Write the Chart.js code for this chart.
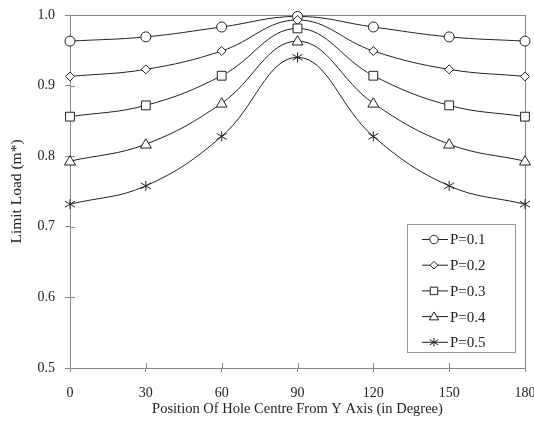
<!DOCTYPE html>
<html><head><meta charset="utf-8">
<script src="https://cdn.jsdelivr.net/npm/chart.js@4/dist/chart.umd.min.js"></script>
<style>html,body{margin:0;padding:0;background:#fff;overflow:hidden;width:534px;height:429px}#wrap{width:550px;height:429px;position:relative}</style>
</head><body><div id="wrap"><canvas id="c"></canvas></div>
<script>
const positions = [0, 30, 60, 90, 120, 150, 180];
const seriesNames = ['P=0.1', 'P=0.2', 'P=0.3', 'P=0.4', 'P=0.5'];
const p01 = [0.963, 0.969, 0.983, 0.998, 0.983, 0.969, 0.963];
const p02 = [0.913, 0.923, 0.949, 0.993, 0.949, 0.923, 0.913];
const p03 = [0.856, 0.872, 0.914, 0.981, 0.914, 0.872, 0.856];
const p04 = [0.793, 0.817, 0.875, 0.963, 0.875, 0.817, 0.793];
const p05 = [0.732, 0.758, 0.828, 0.940, 0.828, 0.758, 0.732];
const yTicks = [0.5, 0.6, 0.7, 0.8, 0.9, 1.0];
const xTicks = [0, 30, 60, 90, 120, 150, 180];

const allSeries = [p01, p02, p03, p04, p05];
const markers = ['circle', 'rectRot', 'rect', 'triangle', 'star'];
const markerR = [5, 4.5, 5.5, 5.5, 5];
const ink = '#222';
const FONT = '"Liberation Serif", "Times New Roman", serif';

function drawMarker(ctx, type, x, y, r) {
  ctx.save();
  ctx.beginPath();
  if (type === 'circle') { ctx.arc(x, y, r, 0, Math.PI * 2); }
  else if (type === 'rectRot') { ctx.moveTo(x, y - r); ctx.lineTo(x + r, y); ctx.lineTo(x, y + r); ctx.lineTo(x - r, y); ctx.closePath(); }
  else if (type === 'rect') { ctx.rect(x - r * 0.8, y - r * 0.8, r * 1.6, r * 1.6); }
  else if (type === 'triangle') { ctx.moveTo(x, y - r); ctx.lineTo(x + r, y + r * 0.7); ctx.lineTo(x - r, y + r * 0.7); ctx.closePath(); }
  if (type !== 'star') { ctx.fillStyle = '#fff'; ctx.fill(); ctx.stroke(); }
  else {
    ctx.moveTo(x - r, y - r * 0.6); ctx.lineTo(x + r, y + r * 0.6);
    ctx.moveTo(x - r, y + r * 0.6); ctx.lineTo(x + r, y - r * 0.6);
    ctx.moveTo(x, y - r); ctx.lineTo(x, y + r);
    ctx.stroke();
  }
  ctx.restore();
}

const framePlugin = {
  id: 'frame',
  beforeDatasetsDraw(chart) {
    const { ctx, chartArea: a, scales } = chart;
    ctx.save();
    ctx.strokeStyle = '#888';
    ctx.lineWidth = 1;
    ctx.strokeRect(a.left + 0.5, a.top + 0.5, a.right - a.left, a.bottom - a.top);
    ctx.beginPath();
    yTicks.forEach(v => { const y = Math.round(scales.y.getPixelForValue(v)) + 0.5; ctx.moveTo(a.left, y); ctx.lineTo(a.left + 5, y); });
    xTicks.forEach(v => { const x = Math.round(scales.x.getPixelForValue(v)) + 0.5; ctx.moveTo(x, a.bottom); ctx.lineTo(x, a.bottom - 5); });
    ctx.stroke();
    ctx.restore();
  },
  afterDatasetsDraw(chart) {
    const { ctx, scales } = chart;
    ctx.save();
    ctx.strokeStyle = ink; ctx.lineWidth = 1;
    allSeries.forEach((s, i) => {
      s.forEach((v, j) => drawMarker(ctx, markers[i], scales.x.getPixelForValue(positions[j]), scales.y.getPixelForValue(v), markerR[i]));
    });
    // legend
    const bx = 407.5, by = 224.5, bw = 108, bh = 128;
    ctx.strokeStyle = '#999';
    ctx.fillStyle = '#fff';
    ctx.fillRect(bx, by, bw, bh);
    ctx.strokeRect(bx, by, bw, bh);
    ctx.strokeStyle = ink;
    ctx.font = '15px ' + FONT;
    ctx.textBaseline = 'middle';
    ctx.fillStyle = ink;
    seriesNames.forEach((n, i) => {
      const y = 239.5 + i * 25.7;
      ctx.beginPath(); ctx.moveTo(422, y); ctx.lineTo(448, y); ctx.stroke();
      drawMarker(ctx, markers[i], 434, y, markerR[i] * 0.85);
      ctx.fillStyle = ink;
      ctx.fillText(n, 450, y + 1);
    });
    ctx.restore();
  }
};

new Chart(document.getElementById('c'), {
  type: 'line',
  data: {
    datasets: allSeries.map((s, i) => ({
      label: seriesNames[i],
      data: s.map((v, j) => ({ x: positions[j], y: v })),
      borderColor: ink,
      borderWidth: 1,
      pointRadius: 0,
      tension: 0.4,
      fill: false
    }))
  },
  options: {
    responsive: true,
    maintainAspectRatio: false,
    animation: false,
    layout: { padding: { top: 15, right: 25, left: 0, bottom: 0 } },
    plugins: { legend: { display: false }, tooltip: { enabled: false } },
    scales: {
      x: {
        type: 'linear', min: 0, max: 180,
        afterBuildTicks: s => { s.ticks = xTicks.map(v => ({ value: v })); },
        afterFit: s => { s.height = 61; s.paddingLeft = 0; s.paddingRight = 0; },
        ticks: { color: ink, font: { family: FONT, size: 14 }, padding: 13, maxRotation: 0 },
        grid: { drawOnChartArea: false, tickLength: 4, color: '#888' },
        border: { color: '#888' },
        title: { display: true, text: 'Position Of Hole Centre From Y Axis (in Degree)', color: ink, font: { family: FONT, size: 14.5 }, padding: { top: 4, bottom: 11 } }
      },
      y: {
        type: 'linear', min: 0.5, max: 1.0,
        afterBuildTicks: s => { s.ticks = yTicks.map(v => ({ value: v })); },
        afterFit: s => { s.width = 70; s.paddingTop = 0; s.paddingBottom = 0; },
        ticks: { color: ink, font: { family: FONT, size: 14 }, padding: 10, callback: v => v.toFixed(1) },
        grid: { drawOnChartArea: false, tickLength: 5, color: '#888' },
        border: { color: '#888' },
        title: { display: true, text: 'Limit Load (m*)', color: ink, font: { family: FONT, size: 15.5 }, padding: { top: 8, bottom: 0 } }
      }
    }
  },
  plugins: [framePlugin]
});
</script></body></html>
